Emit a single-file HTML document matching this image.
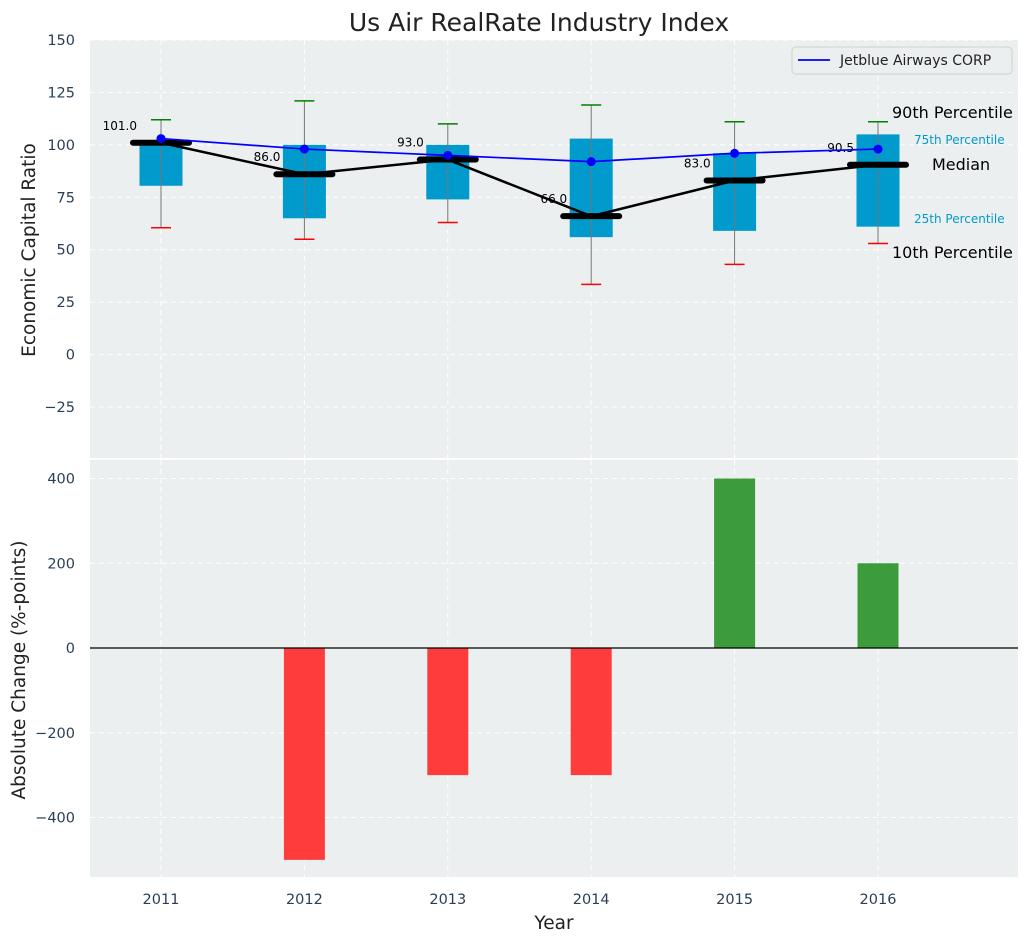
<!DOCTYPE html>
<html><head><meta charset="utf-8"><style>
body{margin:0;background:#fff;font-family:"Liberation Sans","DejaVu Sans",sans-serif}
svg text{font-family:"DejaVu Sans","Liberation Sans",sans-serif}
</style></head><body>
<svg id="c" width="1029" height="942" xmlns="http://www.w3.org/2000/svg"></svg>
<script>
const years=["2011","2012","2013","2014","2015","2016"];
const p10=[60.5,55,63,33.5,43,53];
const p25=[80.5,65,74,56,59,61];
const medians=[101,86,93,66,83,90.5];
const p75=[100,100,100,103,96,105];
const p90=[112,121,110,119,111,111];
const jetblue=[103,98,95,92,96,98];
const changes=[0,-500,-300,-300,400,200];
const topTicks=[-25,0,25,50,75,100,125,150];
const botTicks=[-400,-200,0,200,400];

const NS="http://www.w3.org/2000/svg";
const svg=document.getElementById('c');
function el(t,a,parent){const e=document.createElementNS(NS,t);for(const k in a)e.setAttribute(k,a[k]);(parent||svg).appendChild(e);return e;}
const L=90,R=1018;
const x=i=>161+i*143.4;
const yT=v=>354.6-v*2.0972;
const yB=v=>648-v*0.42375;
let bg1=el('rect',{x:L,y:40,width:R-L,height:418,fill:'#eceff0'});

let bg2=el('rect',{x:L,y:460,width:R-L,height:417,fill:'#eceff0'});

years.forEach((y,i)=>{el('line',{x1:x(i),x2:x(i),y1:40,y2:458,stroke:'#fff','stroke-dasharray':'5,4','stroke-width':1});el('line',{x1:x(i),x2:x(i),y1:460,y2:877,stroke:'#fff','stroke-dasharray':'5,4','stroke-width':1});
 const t=el('text',{x:x(i),y:904,'text-anchor':'middle','font-size':14.5,fill:'#2a3f55'});t.textContent=y;
 });
topTicks.forEach(v=>{el('line',{x1:L,x2:R,y1:yT(v),y2:yT(v),stroke:'#fff','stroke-dasharray':'5,4'});
 const t=el('text',{x:75,y:yT(v)+5,'text-anchor':'end','font-size':14.5,fill:'#2a3f55'});t.textContent=v<0?'\u2212'+(-v):v;
 });
botTicks.forEach(v=>{if(v!==0)el('line',{x1:L,x2:R,y1:yB(v),y2:yB(v),stroke:'#fff','stroke-dasharray':'5,4'});
 const t=el('text',{x:75,y:yB(v)+5,'text-anchor':'end','font-size':14.5,fill:'#2a3f55'});t.textContent=v<0?'\u2212'+(-v):v;
 });
years.forEach((y,i)=>{
 const b=el('rect',{x:x(i)-21.5,y:yT(p75[i]),width:43,height:yT(p25[i])-yT(p75[i]),fill:'#009acd'});
 
 el('line',{x1:x(i),x2:x(i),y1:yT(p90[i]),y2:yT(p10[i]),stroke:'#777','stroke-width':1});
 const w1=el('line',{x1:x(i)-10,x2:x(i)+10,y1:yT(p90[i]),y2:yT(p90[i]),stroke:'green','stroke-width':1.5});
 
 const w2=el('line',{x1:x(i)-10,x2:x(i)+10,y1:yT(p10[i]),y2:yT(p10[i]),stroke:'red','stroke-width':1.5});
 
});
const ml=el('polyline',{points:medians.map((v,i)=>x(i)+','+yT(v)).join(' '),fill:'none',stroke:'#000','stroke-width':2.5});

years.forEach((y,i)=>{
 const m=el('line',{x1:x(i)-28,x2:x(i)+28,y1:yT(medians[i]),y2:yT(medians[i]),stroke:'#000','stroke-width':6,'stroke-linecap':'round'});
 
 const t=el('text',{x:x(i)-24,y:yT(medians[i])-13,'text-anchor':'end','font-size':12,fill:'#000'});t.textContent=medians[i].toFixed(1);
 
});
const jl=el('polyline',{points:jetblue.map((v,i)=>x(i)+','+yT(v)).join(' '),fill:'none',stroke:'#0000ff','stroke-width':1.7});

jetblue.forEach((v,i)=>{const c=el('circle',{cx:x(i),cy:yT(v),r:4.5,fill:'#0000ff'});});
[["90th Percentile",892,118,16,'#000'],["75th Percentile",914,144,12,'#009acd'],["Median",932,170,16,'#000'],["25th Percentile",914,223,12,'#009acd'],["10th Percentile",892,258,16,'#000']].forEach(a=>{
 const t=el('text',{x:a[1],y:a[2],'font-size':a[3],fill:a[4]});t.textContent=a[0];
 });
const lg=el('g',{});
el('rect',{x:792,y:47,width:220,height:27,rx:4,fill:'#eceff0',stroke:'#d0d0d0'},lg);
el('line',{x1:798,x2:830,y1:60,y2:60,stroke:'#0000ff','stroke-width':1.7},lg);
const lt=el('text',{x:840,y:65,'font-size':14,fill:'#222'},lg);lt.textContent='Jetblue Airways CORP';
changes.forEach((v,i)=>{const r=el('rect',{x:x(i)-20.5,y:Math.min(yB(v),yB(0)),width:41,height:Math.abs(yB(v)-yB(0)),fill:v>=0?'#3c9c3c':'#ff3c3c'});
 });
el('line',{x1:L,x2:R,y1:yB(0),y2:yB(0),stroke:'#000','stroke-width':1.2});
const tt=el('text',{x:539,y:31,'text-anchor':'middle','font-size':25,fill:'#222'});tt.textContent='Us Air RealRate Industry Index';

const yt=el('text',{x:0,y:0,'text-anchor':'middle','font-size':18.5,fill:'#222',transform:'translate(35,250) rotate(-90)'});yt.textContent='Economic Capital Ratio';

const yb=el('text',{x:0,y:0,'text-anchor':'middle','font-size':18.5,fill:'#222',transform:'translate(25,670) rotate(-90)'});yb.textContent='Absolute Change (%-points)';

const xt=el('text',{x:554,y:929,'text-anchor':'middle','font-size':18.5,fill:'#222'});xt.textContent='Year';

</script>
</body></html>
